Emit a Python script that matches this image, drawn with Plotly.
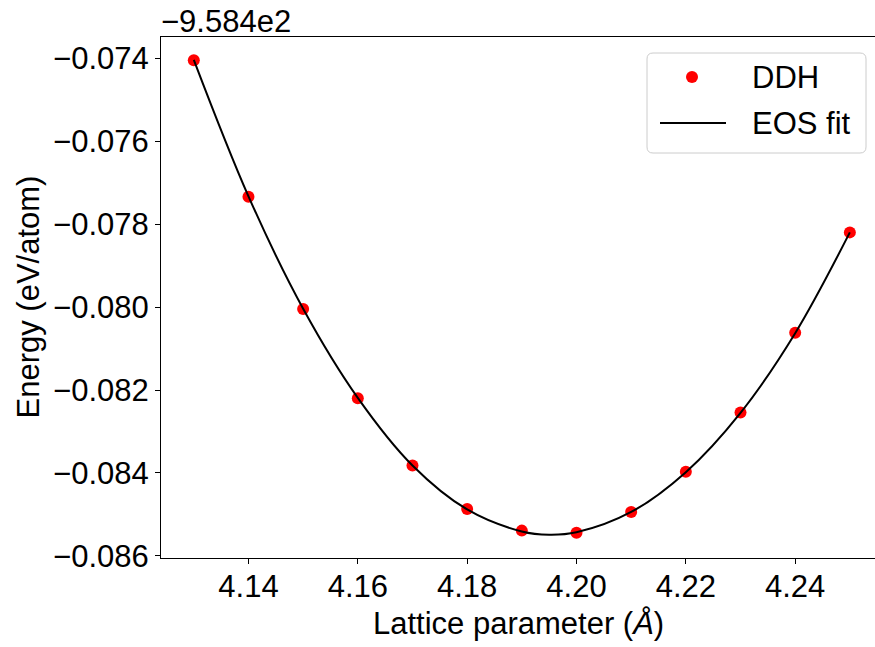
import plotly.graph_objects as go

# Data (energies relative to the axis offset of -958.4 eV/atom)
OFFSET_TEXT = "\u22129.584e2"
lattice = [4.13, 4.14, 4.15, 4.16, 4.17, 4.18, 4.19, 4.20, 4.21, 4.22, 4.23, 4.24, 4.25]
energy_ddh = [-0.07405, -0.07734, -0.08005, -0.08220, -0.08382, -0.08487, -0.08539,
              -0.08544, -0.08494, -0.08397, -0.08254, -0.08062, -0.07820]

# EOS fit curve
fit_x = [4.13, 4.14, 4.15, 4.16, 4.17, 4.18, 4.19, 4.195, 4.20, 4.21, 4.22, 4.23, 4.24, 4.25]
fit_y = [-0.07404, -0.07733, -0.08004, -0.08219, -0.08382, -0.08488, -0.08541, -0.08549,
         -0.08543, -0.08494, -0.08398, -0.08255, -0.08063, -0.07820]

x_ticks = [4.14, 4.16, 4.18, 4.20, 4.22, 4.24]
y_ticks = [-0.074, -0.076, -0.078, -0.080, -0.082, -0.084, -0.086]
legend_labels = ["DDH", "EOS fit"]

FONT = "Liberation Sans, Arial, sans-serif"
FS = 31
W, H = 875, 647
ML, MR, MT, MB = 161, 0, 37, 89
PW, PH = W - ML - MR, H - MT - MB


def px(x):
    return (x - ML) / PW


def py(y):
    return (H - MB - y) / PH


fig = go.Figure()
fig.add_trace(go.Scatter(
    x=lattice, y=energy_ddh, mode="markers", name=legend_labels[0],
    marker=dict(color="#ff0000", size=12, line=dict(width=0)),
))
fig.add_trace(go.Scatter(
    x=fit_x, y=fit_y, mode="lines", name=legend_labels[1],
    line=dict(color="black", width=2, shape="spline", smoothing=1.0),
))

axis_common = dict(
    showgrid=False, zeroline=False, showline=True, linecolor="black", linewidth=1,
    ticks="outside", ticklen=5, tickwidth=1, tickcolor="black",
    tickfont=dict(family=FONT, size=FS, color="black"),
)
fig.update_xaxes(range=[4.124, 4.2546], tickvals=x_ticks,
                 ticktext=[f"{v:.2f}" for v in x_ticks], mirror=True,
                 ticklabelstandoff=-4, **axis_common)
fig.update_yaxes(range=[-0.08605, -0.07349], tickvals=y_ticks,
                 ticktext=[f"\u2212{abs(v):.3f}" for v in y_ticks], mirror=False, **axis_common)

fig.add_annotation(text="Lattice parameter (<i>Å</i>)", xref="paper", yref="paper",
                   x=0.5, y=0, xanchor="center", yanchor="top", yshift=-46, showarrow=False,
                   font=dict(family=FONT, size=FS, color="black"))
fig.add_annotation(text="Energy (eV/atom)", xref="paper", yref="paper",
                   x=0, y=0.5, xanchor="center", yanchor="middle", xshift=-133,
                   textangle=-90, showarrow=False,
                   font=dict(family=FONT, size=FS, color="black"))
fig.add_annotation(text=OFFSET_TEXT, xref="paper", yref="paper",
                   x=0, y=1, xanchor="left", yanchor="bottom", yshift=-4, xshift=-2,
                   showarrow=False, font=dict(family=FONT, size=FS, color="black"))

# Legend box (matplotlib-style, rounded corners)
bx0, bx1, by0, by1, r = 647, 866, 53, 153, 6
path = (
    f"M {px(bx0 + r)} {py(by0)} L {px(bx1 - r)} {py(by0)} "
    f"Q {px(bx1)} {py(by0)} {px(bx1)} {py(by0 + r)} "
    f"L {px(bx1)} {py(by1 - r)} Q {px(bx1)} {py(by1)} {px(bx1 - r)} {py(by1)} "
    f"L {px(bx0 + r)} {py(by1)} Q {px(bx0)} {py(by1)} {px(bx0)} {py(by1 - r)} "
    f"L {px(bx0)} {py(by0 + r)} Q {px(bx0)} {py(by0)} {px(bx0 + r)} {py(by0)} Z"
)
fig.add_shape(type="path", path=path, xref="paper", yref="paper",
              fillcolor="rgba(255,255,255,0.8)", line=dict(color="#cccccc", width=1))
row_y = [77, 123]
# marker sample
fig.add_shape(type="circle", xref="paper", yref="paper", xsizemode="pixel", ysizemode="pixel",
              xanchor=px(692), yanchor=py(row_y[0]), x0=-6, x1=6, y0=-6, y1=6,
              fillcolor="#ff0000", line=dict(width=0))
# line sample
fig.add_shape(type="line", xref="paper", yref="paper",
              x0=px(660), x1=px(726), y0=py(row_y[1]), y1=py(row_y[1]),
              line=dict(color="black", width=2))
for lbl, ry in zip(legend_labels, row_y):
    fig.add_annotation(text=lbl, xref="paper", yref="paper", x=px(750), y=py(ry),
                       xanchor="left", yanchor="middle", showarrow=False,
                       font=dict(family=FONT, size=FS, color="black"))

fig.update_layout(
    width=W, height=H,
    margin=dict(l=ML, r=MR, t=MT, b=MB),
    paper_bgcolor="white", plot_bgcolor="white",
    showlegend=False,
)

fig.write_html("out.html")
